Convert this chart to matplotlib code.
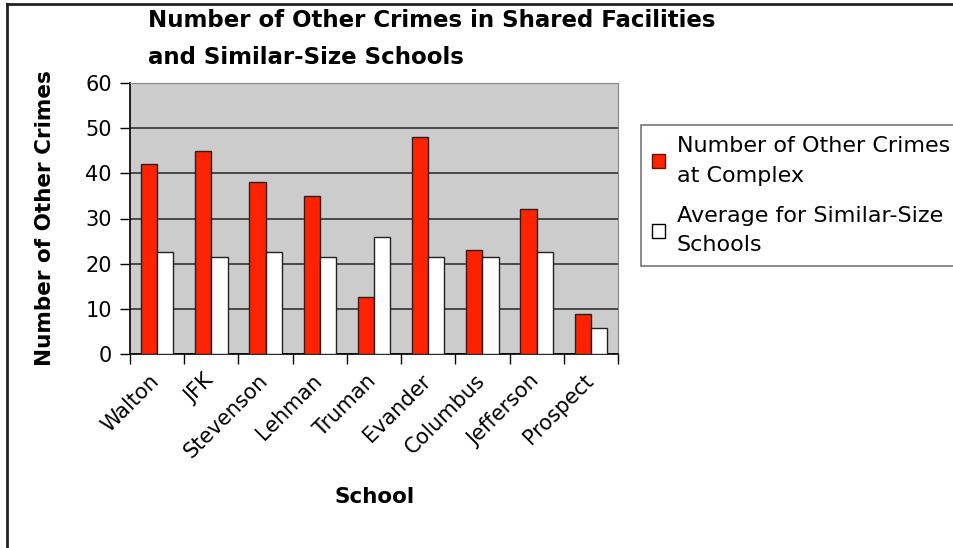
import matplotlib
matplotlib.use("Agg")
import matplotlib.pyplot as plt
import matplotlib.transforms as mtransforms
import numpy as np
from matplotlib.patches import Patch
from matplotlib.lines import Line2D

schools = ["Walton", "JFK", "Stevenson", "Lehman", "Truman", "Evander",
           "Columbus", "Jefferson", "Prospect"]
complex_crimes = [42, 45, 38, 35, 12.7, 48, 23, 32.2, 8.8]
similar_avg = [22.5, 21.5, 22.5, 21.5, 26, 21.5, 21.5, 22.5, 5.7]
yticks = [0, 10, 20, 30, 40, 50, 60]

W, H = 954, 548
fig = plt.figure(figsize=(W / 100, H / 100), dpi=100)
plt.rcParams['font.family'] = ['DejaVu Sans']

ax = fig.add_axes([130 / W, 1 - 354 / H, (618 - 130) / W, (354 - 83) / H])
ax.set_facecolor('#CCCCCC')

x = np.arange(len(schools))
bw = 0.3
ax.bar(x - bw / 2, complex_crimes, bw, color='#FF2200', edgecolor='#222222',
       linewidth=1.0, zorder=3)
ax.bar(x + bw / 2, similar_avg, bw, color='white', edgecolor='#222222',
       linewidth=1.0, zorder=3)

ax.set_xlim(-0.5, len(schools) - 0.5)
ax.set_ylim(0, 60)
ax.set_yticks(yticks)
ax.set_yticklabels([str(v) for v in yticks], fontsize=15)
ax.yaxis.grid(True, color='#333333', linewidth=1.2, zorder=1)
ax.set_axisbelow(True)

# category ticks between groups
ax.set_xticks(np.arange(len(schools) + 1) - 0.5)
ax.set_xticklabels([])
ax.set_xticks(x, minor=True)
ax.set_xticklabels(schools, minor=True, rotation=45, ha='right',
                   rotation_mode='anchor', fontsize=15)
ax.tick_params(axis='x', which='minor', length=0, pad=12)
ax.tick_params(axis='x', which='major', length=7, direction='out', width=1)
ax.tick_params(axis='y', length=7, direction='out', width=1, pad=6)
offset = mtransforms.ScaledTranslation(-8 / 100, 0, fig.dpi_scale_trans)
for lbl in ax.get_xticklabels(minor=True):
    lbl.set_transform(lbl.get_transform() + offset)

for s in ['top', 'right']:
    ax.spines[s].set_color('#888888')
for s in ['left', 'bottom']:
    ax.spines[s].set_color('black')
    ax.spines[s].set_linewidth(1.2)

ax.set_ylabel('Number of Other Crimes', fontsize=15.5, fontweight='bold', labelpad=22)
fig.text(375 / W, 1 - 497 / H, 'School', fontsize=15.5, fontweight='bold',
         ha='center', va='center')

fig.text(148 / W, 1 - 9 / H, 'Number of Other Crimes in Shared Facilities\nand Similar-Size Schools',
         fontsize=16.5, fontweight='bold', ha='left', va='top', linespacing=1.8)

handles = [Patch(facecolor='#FF2200', edgecolor='#661100', linewidth=1),
           Patch(facecolor='white', edgecolor='black', linewidth=1)]
leg = fig.legend(handles, ['Number of Other Crimes\nat Complex', 'Average for Similar-Size\nSchools'],
                 loc='upper left', bbox_to_anchor=(641 / W, 1 - 125 / H),
                 fontsize=16, frameon=True, fancybox=False, handlelength=0.6,
                 handleheight=0.6, handletextpad=0.5, borderpad=0.5,
                 labelspacing=0.9, borderaxespad=0)
leg.get_frame().set_edgecolor('#555555')
leg.get_frame().set_linewidth(1.2)
for t in leg.get_texts():
    t.set_linespacing(1.6)

# figure border (left and top)
fig.add_artist(Line2D([7 / W, 7 / W], [0, 1 - 4 / H], transform=fig.transFigure,
                      color='#222222', linewidth=2))
fig.add_artist(Line2D([7 / W, 1], [1 - 4 / H, 1 - 4 / H], transform=fig.transFigure,
                      color='#222222', linewidth=2))

fig.savefig('out.png', dpi=100)
